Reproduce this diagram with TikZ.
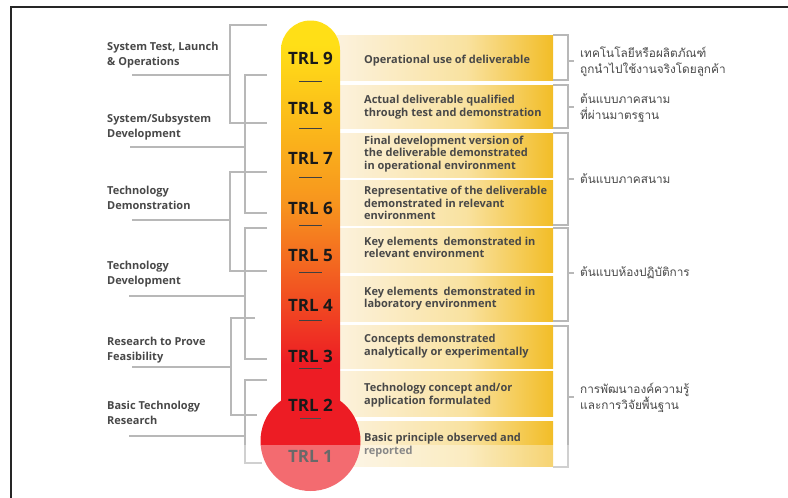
\documentclass[tikz,border=0pt]{standalone}
\usepackage{fontspec}
\setmainfont{Open Sans}
\newfontfamily\thaifont[Script=Thai]{Loma}
\definecolor{trlyellow}{HTML}{FFDF17}
\definecolor{trlorange}{HTML}{F7941E}
\definecolor{trlred}{HTML}{ED1C24}
\definecolor{boxlight}{HTML}{FCF2DE}
\definecolor{boxmid}{HTML}{F9E2A0}
\definecolor{boxgold}{HTML}{F2BD27}
\definecolor{txtgray}{HTML}{484848}
\definecolor{linegray}{HTML}{B8B8B8}
\pgfdeclareverticalshading{thermo}{100bp}{color(0bp)=(trlred); color(32bp)=(trlred); color(52bp)=(trlorange); color(72bp)=(trlyellow); color(100bp)=(trlyellow)}
\pgfdeclarehorizontalshading{boxfade}{100bp}{color(0bp)=(boxlight); color(25bp)=(boxlight); color(55bp)=(boxmid); color(75bp)=(boxgold); color(100bp)=(boxgold)}
\begin{document}
\begin{tikzpicture}[x=1pt,y=-1pt,
    trl/.style={font=\fontsize{17}{17}\selectfont\bfseries, text=black!90, inner sep=0pt},
    desc/.style={anchor=west, align=left, inner sep=0pt, text=txtgray,
      font=\fontsize{11}{12.6}\selectfont\bfseries},
    grp/.style={anchor=west, align=left, inner sep=0pt, text=txtgray,
      font=\fontsize{11}{15}\selectfont\bfseries},
    thai/.style={anchor=west, align=left, inner sep=0pt, text=txtgray,
      font=\thaifont\fontsize{11.8}{16}\selectfont},
    brk/.style={draw=linegray, line width=1.3pt}]
  \useasboundingbox (0,0) rectangle (788,498);

  % Description boxes
  \foreach \t/\b in {35/80, 85/128, 133/177, 180/225, 228/272, 276/321, 325/368, 371/416, 421/466}
    \shade[shading=boxfade] (335,\t) rectangle (553,\b);

  % Thermometer
  \shade[shading=thermo] (281,420) -- (281,50) arc[start angle=180, end angle=360, radius=29.5] -- (340,420) -- cycle;
  \fill[trlred] (310.5,441) circle (50);
  \foreach \y in {81,128,177,225,272,320,368}
    \draw[black!75, line width=0.8pt] (299,\y) -- (322,\y);
  \draw[black!70, line width=0.5pt] (300,418) -- (321,418);
  \foreach \n/\y in {9/58, 8/108, 7/158, 6/208, 5/256, 4/305, 3/356, 2/405, 1/456}
    \node[trl] (trl\n) at (310.5,\y) {TRL \n};

  % Box texts
  \node[desc] (d9) at (364,61) {Operational use of deliverable};
  \node[desc] (d8) at (364,107) {Actual deliverable qualified\\through test and demonstration};
  \node[desc] (d7) at (364,154) {Final development version of\\the deliverable demonstrated\\in operational environment};
  \node[desc] (d6) at (364,203) {Representative of the deliverable\\demonstrated in relevant\\environment};
  \node[desc] (d5) at (364,247.5) {Key elements\ \ demonstrated in\\relevant environment};
  \node[desc] (d4) at (364,298.5) {Key elements\ \ demonstrated in\\laboratory environment};
  \node[desc] (d3) at (364,346) {Concepts demonstrated\\analytically or experimentally};
  \node[desc] (d2) at (364,395) {Technology concept and/or\\application formulated};
  \node[desc] (d1) at (364,445) {Basic principle observed and\\reported};

  % Right brackets and Thai labels
  \foreach \t/\b/\m in {35/80/61, 85/128/107, 133/225/179, 228/321/273, 326/467/397}
    \draw[brk] (553,\t) -| (568,\b) -- (553,\b) (568,\m) -- (574,\m);
  \node[thai] (t9) at (580,62) {เทคโนโลยีหรือผลิตภัณฑ์\\ถูกนำไปใช้งานจริงโดยลูกค้า};
  \node[thai] (t8) at (580,108) {ต้นแบบภาคสนาม\\ที่ผ่านมาตรฐาน};
  \node[thai] (t7) at (580,179) {ต้นแบบภาคสนาม};
  \node[thai] (t5) at (580,273) {ต้นแบบห้องปฏิบัติการ};
  \node[thai] (t3) at (580,398) {การพัฒนาองค์ความรู้\\และการวิจัยพื้นฐาน};

  % Left brackets
  \draw[brk] (267,25) -| (230,123) -- (267,123);
  \draw[brk] (267,75) -| (245,213) -- (267,213);
  \draw[brk] (267,172) -| (230,271) -- (267,271);
  \draw[brk] (267,228) -| (245,359) -- (267,359);
  \draw[brk] (255,318) -| (231,415) -- (257,415);
  \draw[brk] (267,380) -| (245,463) -- (262,463);
  \draw[brk] (132,75) -- (230,75);
  \draw[brk] (130,147) -- (245,147);
  \draw[brk] (132,220) -- (230,220);
  \draw[brk] (129,296) -- (245,296);
  \draw[brk] (132,367) -- (231,367);
  \draw[brk] (129,436) -- (245,436);

  % Stage labels
  \node[grp] (g9) at (107,55.5) {System Test, Launch\\\& Operations};
  \node[grp] (g8) at (107,127.5) {System/Subsystem\\Development};
  \node[grp] (g7) at (107,197.5) {Technology\\Demonstration};
  \node[grp] (g5) at (107,274.5) {Technology\\Development};
  \node[grp] (g3) at (107,350.5) {Research to Prove\\Feasibility};
  \node[grp] (g1) at (107,412.5) {Basic Technology\\Research};

  % Faded lower strip and frame
  \fill[white, opacity=0.35] (0,445) rectangle (788,498);
  \draw[black!85, line width=1.5pt] (11,498) -- (11,7) -- (788,7);
\end{tikzpicture}
\end{document}
